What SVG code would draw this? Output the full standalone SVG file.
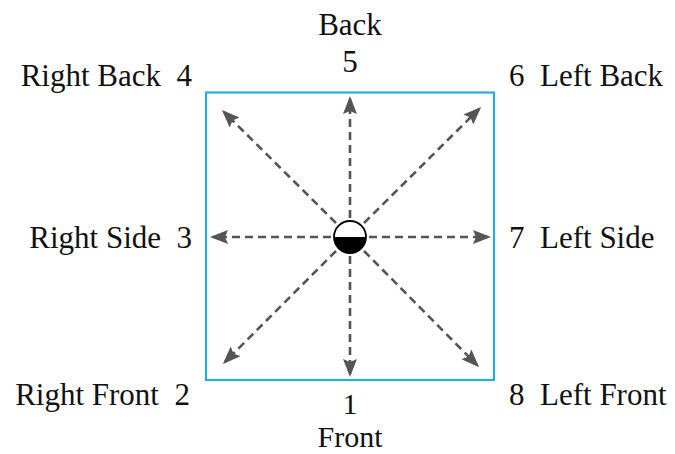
<svg xmlns="http://www.w3.org/2000/svg" width="675" height="454" viewBox="0 0 675 454">
<style>
.lbl{font-family:"Liberation Serif","Times New Roman",serif;font-size:31px;fill:#111}
.sm{font-size:30px}
.arr{stroke:#555;stroke-width:2.6;stroke-dasharray:8 5;fill:none;marker-end:url(#ah)}
</style>
<defs>
<marker id="ah" markerUnits="userSpaceOnUse" markerWidth="18" markerHeight="14" viewBox="0 0 18 14" refX="15" refY="7" orient="auto">
<path d="M0,0 L18,7 L0,14 L3,7 z" fill="#555"/>
</marker>
</defs>
<rect width="675" height="454" fill="#fff"/>
<g id="box"><rect x="206" y="92.5" width="288" height="287.5" fill="none" stroke="#29abe2" stroke-width="2.2"/></g>
<g id="connectors">
<line class="arr" x1="350" y1="218" x2="350" y2="99"/>
<line class="arr" x1="350" y1="256" x2="350" y2="374"/>
<line class="arr" x1="331" y1="237" x2="213" y2="237"/>
<line class="arr" x1="369" y1="237" x2="488" y2="237"/>
<line class="arr" x1="336" y1="223" x2="224" y2="112"/>
<line class="arr" x1="364" y1="223" x2="479" y2="109"/>
<line class="arr" x1="336" y1="251" x2="225" y2="362"/>
<line class="arr" x1="364" y1="251" x2="477" y2="365"/>
</g>
<g id="center">
<path d="M334,237 A16,16 0 0 1 366,237 Z" fill="#fff"/>
<path d="M334,237 A16,16 0 0 0 366,237 Z" fill="#000"/>
<circle cx="350" cy="237" r="16" fill="none" stroke="#000" stroke-width="1.8"/>
</g>
<g id="n5"><text class="lbl" x="350" y="35" text-anchor="middle">Back</text><text class="lbl" x="350" y="72" text-anchor="middle">5</text></g>
<g id="n4"><text class="lbl" x="192" y="86" text-anchor="end" xml:space="preserve">Right Back  4</text></g>
<g id="n6"><text class="lbl" x="509" y="86" xml:space="preserve">6  Left Back</text></g>
<g id="n3"><text class="lbl" x="192" y="248" text-anchor="end" xml:space="preserve">Right Side  3</text></g>
<g id="n7"><text class="lbl" x="509" y="248" xml:space="preserve">7  Left Side</text></g>
<g id="n2"><text class="lbl" x="190" y="405" text-anchor="end" xml:space="preserve">Right Front  2</text></g>
<g id="n8"><text class="lbl" x="509" y="405" xml:space="preserve">8  Left Front</text></g>
<g id="n1"><text class="lbl sm" x="350" y="414" text-anchor="middle">1</text><text class="lbl sm" x="350" y="447" text-anchor="middle">Front</text></g>
</svg>
